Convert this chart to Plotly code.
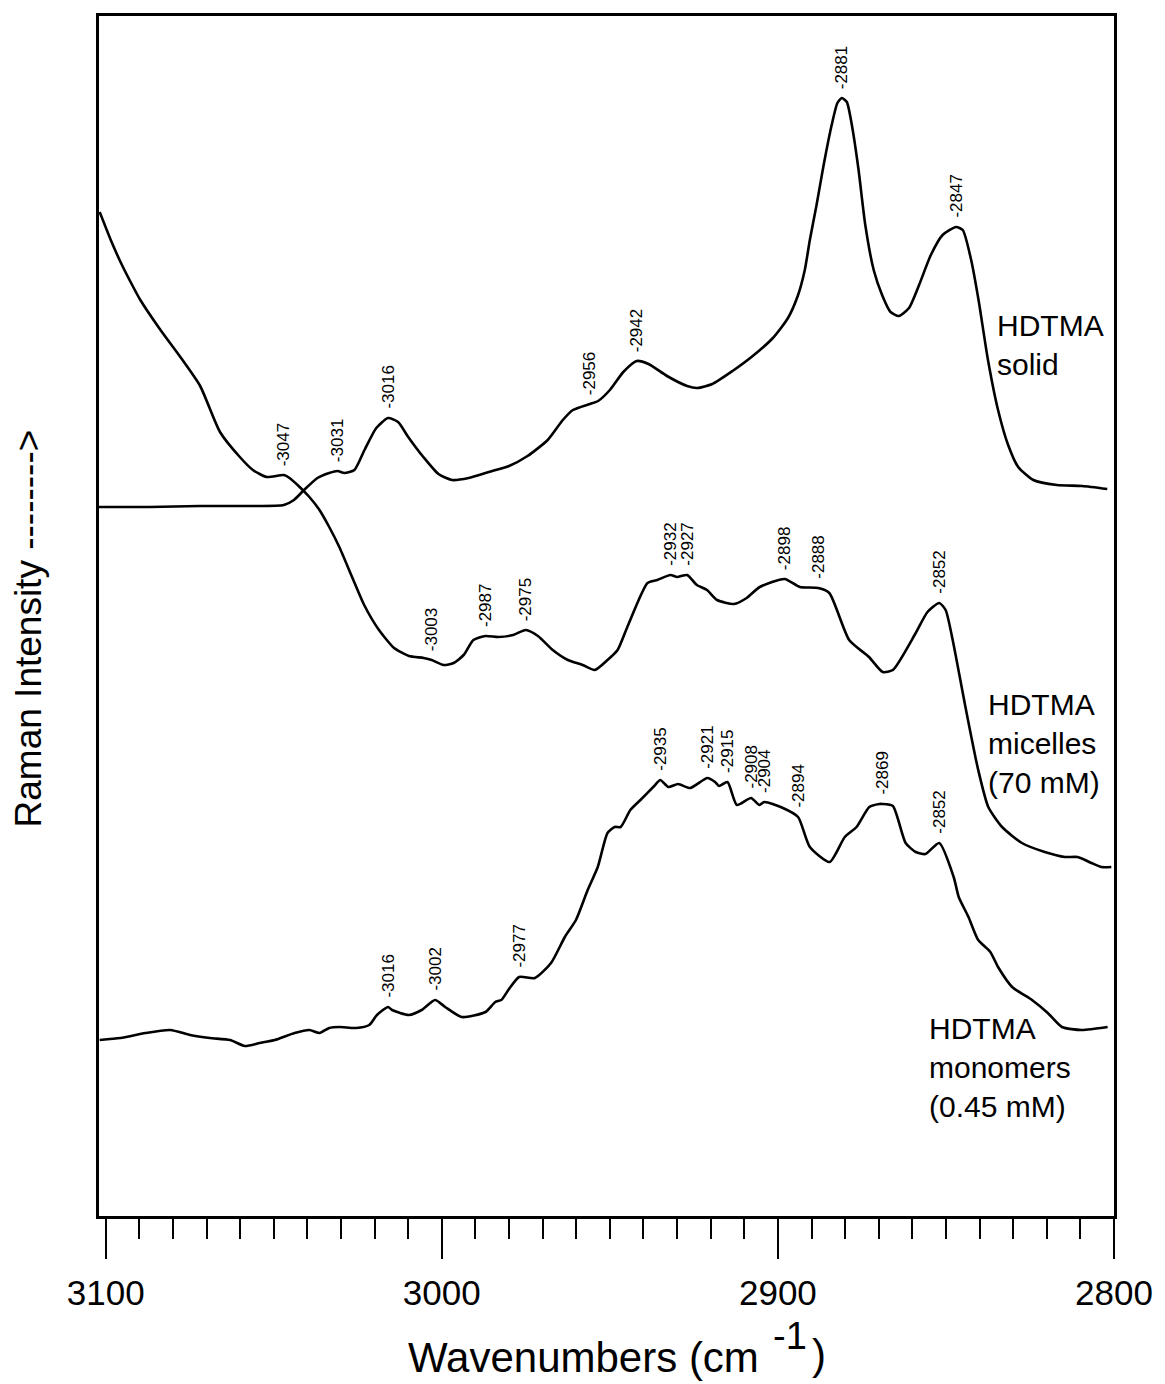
import numpy as np
import plotly.graph_objects as go

# ---- HDTMA solid: wavenumber (cm^-1) and relative Raman intensity ----
solid_wn = [3102, 3087, 3072, 3057, 3047, 3044, 3041, 3037, 3033.5, 3031, 3029, 3026,
            3023, 3019.5, 3016, 3013, 3010, 3005.5, 3001, 2997, 2992, 2986, 2980,
            2974.5, 2968.5, 2964, 2961, 2956, 2953.5, 2950, 2946, 2942, 2938.5, 2933,
            2927, 2924, 2919.5, 2913.5, 2907.5, 2901.5, 2897, 2894, 2892, 2890.5,
            2888.5, 2886.5, 2884, 2882.3, 2881, 2879.5, 2878, 2876, 2874, 2871.5,
            2869, 2866.5, 2864, 2861, 2858, 2854.5, 2851, 2847, 2845, 2842.5, 2840.3,
            2837.5, 2834.5, 2831.5, 2828.5, 2824, 2817, 2809.5, 2802]
solid_int = [709, 709, 710, 710, 711, 716, 726, 738, 743, 745, 743, 746,
             766, 788, 798, 794, 779, 759, 742, 736, 738, 744, 750,
             760, 776, 796, 806, 812, 815, 826, 844, 855, 852, 840,
             830, 828, 832, 845, 860, 878, 898, 921, 946, 976,
             1011, 1049, 1091, 1113, 1118, 1114, 1091, 1046, 991, 946,
             921, 904, 900, 908, 931, 961, 981, 989, 986, 956, 916,
             856, 806, 771, 749, 736, 731, 730, 727]

# ---- HDTMA micelles (70 mM) ----
micelle_wn = [3101.8, 3098.5, 3095.6, 3092.6, 3089.7, 3083.7, 3077.8, 3071.9, 3066,
              3060.1, 3056.2, 3052.1, 3047, 3045.3, 3042.3, 3039.4, 3036.4, 3033.5,
              3030.5, 3026.7, 3023.1, 3018.7, 3014.2, 3009.8, 3005.4, 3003, 2999.5,
              2996.5, 2993.5, 2990.6, 2987, 2983.2, 2978.8, 2975, 2971.4, 2967,
              2962.5, 2958.1, 2954.5, 2950.7, 2947.7, 2944.8, 2938.8, 2935.9, 2932,
              2930, 2927, 2924.1, 2921.1, 2918.1, 2913.1, 2909.3, 2905.4, 2898,
              2893.5, 2888, 2884.7, 2878.8, 2872.9, 2868.8, 2865.8, 2859, 2855.5,
              2852, 2850.1, 2848, 2844.2, 2840.4, 2837.4, 2833.3, 2827.4, 2820.6,
              2814.6, 2810.8, 2806.7, 2803.7, 2800.8]
micelle_int = [1004, 976, 954, 934, 916, 886, 859, 830, 784,
               759, 746, 739, 741, 738, 729, 719, 706, 689,
               669, 639, 611, 586, 568, 560, 558, 556, 551,
               553, 561, 576, 580, 579, 581, 586, 580, 566,
               556, 551, 546, 556, 566, 589, 633, 636, 641,
               639, 641, 631, 626, 616, 612, 618, 629, 637,
               629, 628, 623, 576, 559, 544, 546, 583, 604,
               613, 606, 576, 509, 446, 409, 389, 373, 364,
               359, 359, 353, 349, 349]

# ---- HDTMA monomers (0.45 mM) ----
monomer_wn = [3101.8, 3095.6, 3088.2, 3080.8, 3074.9, 3069, 3063, 3058.6, 3054.2,
              3049.7, 3043.8, 3039.4, 3036.4, 3033.5, 3030.5, 3025.5, 3021.6, 3019.3,
              3016, 3014.8, 3009.8, 3006, 3002, 2999, 2994.1, 2987, 2984.1, 2982.3,
              2980.2, 2977, 2972.3, 2967.5, 2963.4, 2960.1, 2956.6, 2953.6, 2950.7,
              2948.6, 2946.8, 2943.9, 2940.9, 2936.8, 2935, 2932.6, 2929.7, 2926.1,
              2921, 2918.7, 2917.5, 2915, 2912.2, 2908, 2905.5, 2904, 2898.5, 2894,
              2890.5, 2884.6, 2880.1, 2876.6, 2872.8, 2869.8, 2869, 2865.8, 2862,
              2859, 2856.1, 2852, 2847.7, 2846.2, 2843.3, 2840.4, 2836.8, 2834.5,
              2830.3, 2824.4, 2819.7, 2815.5, 2809.6, 2801.9]
monomer_int = [176, 178, 183, 186, 181, 178, 176, 170, 173,
               176, 183, 186, 183, 188, 189, 188, 191, 201,
               209, 206, 201, 206, 216, 209, 199, 204, 214, 216,
               226, 239, 238, 253, 279, 296, 326, 349, 383,
               389, 389, 406, 416, 430, 436, 429, 432, 428,
               438, 434, 430, 434, 411, 418, 411, 414, 408, 399,
               369, 354, 379, 389, 409, 412, 412, 410, 373,
               364, 362, 373, 339, 319, 299, 276, 264, 249,
               229, 216, 203, 189, 186, 189]

# Band positions marked on each spectrum (cm^-1)
solid_peaks = [3031, 3016, 2956, 2942, 2881, 2847]
micelle_peaks = [3047, 3003, 2987, 2975, 2932, 2927, 2898, 2888, 2852]
monomer_peaks = [3016, 3002, 2977, 2935, 2921, 2915, 2908, 2904, 2894, 2869, 2852]

# Axis tick labels
major_ticks = [3100, 3000, 2900, 2800]

FONT = "Liberation Sans, Arial, sans-serif"

fig = go.Figure()

for wn, inten in [(solid_wn, solid_int), (micelle_wn, micelle_int), (monomer_wn, monomer_int)]:
    fig.add_trace(go.Scatter(x=wn, y=inten, mode="lines",
                             line=dict(color="black", width=2.6, shape="spline", smoothing=0.6),
                             hoverinfo="skip", showlegend=False))

annotations = []


def peak_labels(wn, inten, peaks):
    order = np.argsort(wn)
    xs = np.asarray(wn, dtype=float)[order]
    ys = np.asarray(inten, dtype=float)[order]
    for p in peaks:
        yv = float(np.interp(p, xs, ys))
        annotations.append(dict(x=p, y=yv, xref="x", yref="y", text="-%d" % p,
                                textangle=-90, showarrow=False, xanchor="center",
                                yanchor="bottom", yshift=7,
                                font=dict(family=FONT, size=17, color="black")))


peak_labels(solid_wn, solid_int, solid_peaks)
peak_labels(micelle_wn, micelle_int, micelle_peaks)
peak_labels(monomer_wn, monomer_int, monomer_peaks)

# Spectrum names
for txt, xw, yi in [("HDTMA<br>solid", 2835.5, 871),
                    ("HDTMA<br>micelles<br>(70 mM)", 2838.0, 473),
                    ("HDTMA<br>monomers<br>(0.45 mM)", 2855.5, 149)]:
    annotations.append(dict(x=xw, y=yi, xref="x", yref="y", text=txt, align="left",
                            showarrow=False, xanchor="left", yanchor="middle",
                            font=dict(family=FONT, size=30, color="black")))

# Vertical axis title
annotations.append(dict(x=-0.0695, y=0.49, xref="paper", yref="paper",
                        text="Raman Intensity -------->", textangle=-90, showarrow=False,
                        xanchor="center", yanchor="middle",
                        font=dict(family=FONT, size=37, color="black")))

# Horizontal axis title, with a full-size raised exponent
title_font = dict(family=FONT, size=42, color="black")
annotations.append(dict(x=0.3026, y=-0.1175, xref="paper", yref="paper",
                        text="Wavenumbers (cm", showarrow=False,
                        xanchor="left", yanchor="middle", font=title_font))
annotations.append(dict(x=0.6616, y=-0.1, xref="paper", yref="paper",
                        text="-1", showarrow=False,
                        xanchor="left", yanchor="middle",
                        font=dict(family=FONT, size=38, color="black")))
annotations.append(dict(x=0.7003, y=-0.1155, xref="paper", yref="paper",
                        text=")", showarrow=False,
                        xanchor="left", yanchor="middle", font=title_font))

fig.update_layout(
    width=1165, height=1384, autosize=False,
    margin=dict(l=99, r=45, t=16, b=168, pad=0),
    paper_bgcolor="white", plot_bgcolor="white",
    annotations=annotations,
    xaxis=dict(range=[3102, 2800], tickvals=major_ticks,
               ticktext=[str(t) for t in major_ticks],
               ticks="outside", ticklen=40, tickwidth=2, tickcolor="black",
               ticklabelstandoff=4,
               tickfont=dict(family=FONT, size=35, color="black"),
               minor=dict(dtick=10, tick0=2800, ticks="outside", ticklen=20,
                          tickwidth=2, tickcolor="black", showgrid=False),
               showline=True, linecolor="black", linewidth=2.6, mirror=True,
               showgrid=False, zeroline=False),
    yaxis=dict(range=[0, 1200], showticklabels=False, ticks="",
               showline=True, linecolor="black", linewidth=2.6, mirror=True,
               showgrid=False, zeroline=False),
)

fig.write_html("out.html")
